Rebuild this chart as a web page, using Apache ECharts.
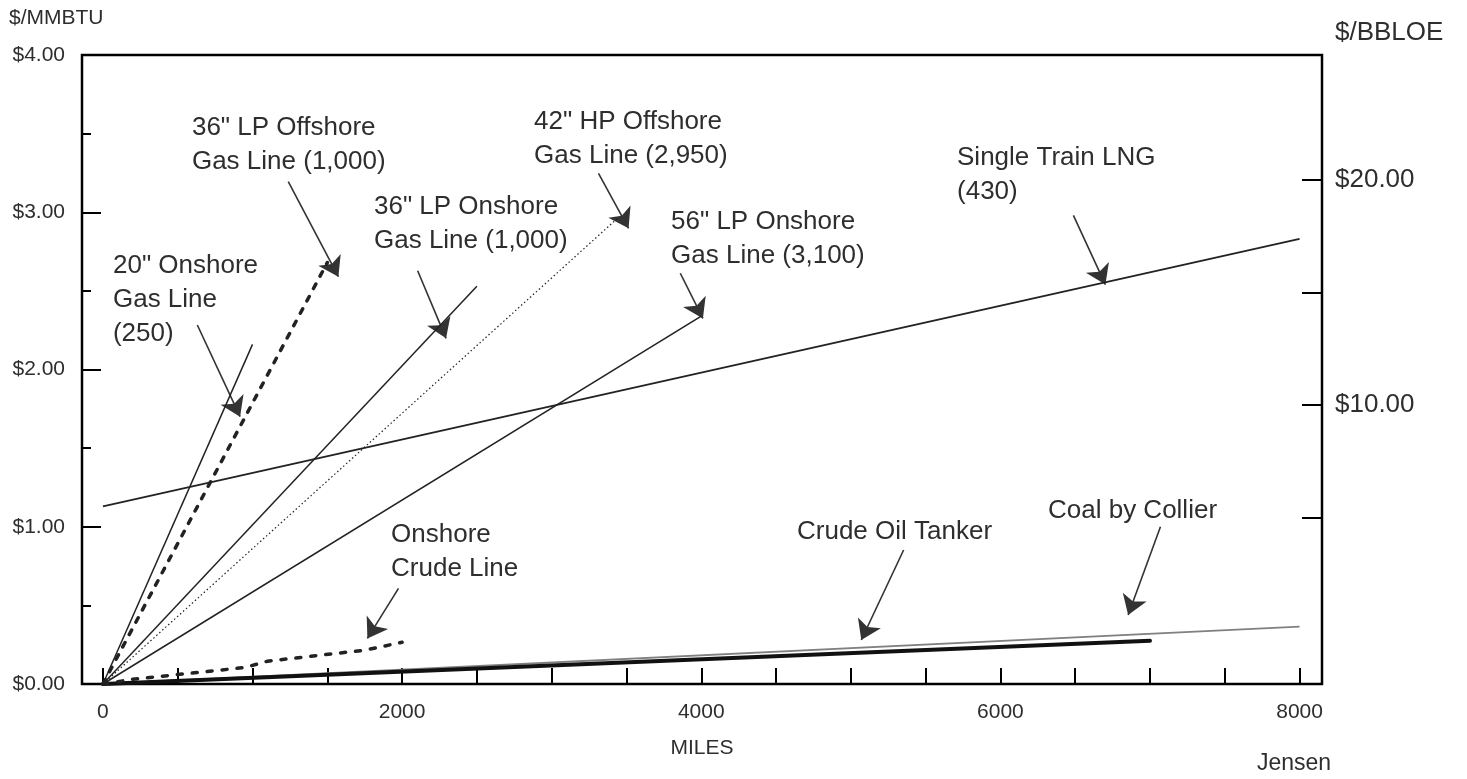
<!DOCTYPE html>
<html>
<head>
<meta charset="utf-8">
<title>Transport cost by distance</title>
<script src="https://cdn.jsdelivr.net/npm/echarts@6/dist/echarts.min.js"></script>
<style>
  html, body { margin: 0; padding: 0; background: #fff; }
  #chart { width: 1467px; height: 779px; }
</style>
</head>
<body>
<div id="chart"></div>
<script>
// x = miles, y = $/MMBTU
const onshore20 = [[0, 0], [1000, 2.16]];
const offshore36 = [[0, 0], [1500, 2.68]];
const onshore36 = [[0, 0], [2500, 2.53]];
const offshore42 = [[0, 0], [3450, 2.97]];
const onshore56 = [[0, 0], [4000, 2.34]];
const lngTrain = [[0, 1.13], [8000, 2.83]];
const crudeLine = [[0, 0], [200, 0.03], [950, 0.105], [1100, 0.145], [1750, 0.215], [2000, 0.265]];
const oilTanker = [[0, 0], [7000, 0.275]];
const coalCollier = [[0, 0], [8000, 0.365]];

const xTickValues = [0, 500, 1000, 1500, 2000, 2500, 3000, 3500, 4000, 4500, 5000, 5500, 6000, 6500, 7000, 7500, 8000];
const xLabelValues = [0, 2000, 4000, 6000, 8000];
const rightTickValues = [5, 10, 15, 20];
const rightLabelValues = [10, 20];

// annotation text (top-left corner in data space)
const notes = [
  { text: '20" Onshore\nGas Line\n(250)', at: [67, 2.77] },
  { text: '36" LP Offshore\nGas Line (1,000)', at: [595, 3.647] },
  { text: '36" LP Onshore\nGas Line (1,000)', at: [1812, 3.14] },
  { text: '42" HP Offshore\nGas Line (2,950)', at: [2882, 3.685] },
  { text: '56" LP Onshore\nGas Line (3,100)', at: [3798, 3.045] },
  { text: 'Single Train LNG\n(430)', at: [5710, 3.456] },
  { text: 'Onshore\nCrude Line', at: [1926, 1.057] },
  { text: 'Crude Oil Tanker', at: [4640, 1.073] },
  { text: 'Coal by Collier', at: [6318, 1.211] }
];
// arrows from label to line
const arrows = [
  [[631, 2.283], [917, 1.70]],
  [[1239, 3.194], [1574, 2.59]],
  [[2104, 2.628], [2294, 2.198]],
  [[3313, 3.247], [3514, 2.898]],
  [[3860, 2.612], [4011, 2.325]],
  [[6488, 2.98], [6702, 2.54]],
  [[1976, 0.608], [1768, 0.29]],
  [[5353, 0.852], [5070, 0.28]],
  [[7070, 1.0], [6854, 0.439]]
];

const textColor = '#2e2e2e';
const font = '"Liberation Sans", Arial, sans-serif';

const chart = echarts.init(document.getElementById('chart'));

function lineSeries(name, data, style) {
  return {
    name: name,
    type: 'line',
    data: data,
    showSymbol: false,
    symbol: 'none',
    silent: true,
    lineStyle: Object.assign({ color: '#222', width: 1.5 }, style)
  };
}

const option = {
  backgroundColor: '#fff',
  animation: false,
  grid: {
    left: 82, right: 145, top: 55, bottom: 95,
    show: true, borderColor: '#000', borderWidth: 2.5
  },
  xAxis: {
    type: 'value',
    min: -140,
    max: 8150,
    name: 'MILES',
    nameLocation: 'middle',
    nameGap: 54,
    nameTextStyle: { color: textColor, fontSize: 21, fontFamily: font },
    axisLine: { show: false, onZero: false },
    splitLine: { show: false },
    axisTick: {
      show: true, inside: true, length: 16,
      customValues: xTickValues,
      lineStyle: { color: '#000', width: 2 }
    },
    axisLabel: {
      customValues: xLabelValues,
      color: textColor, fontSize: 21, fontFamily: font, margin: 18,
      formatter: v => String(v)
    }
  },
  yAxis: [
    {
      type: 'value',
      min: 0,
      max: 4,
      interval: 1,
      axisLine: { show: false, onZero: false },
      splitLine: { show: false },
      axisTick: { show: true, inside: true, length: 19, lineStyle: { color: '#000', width: 2 } },
      minorTick: { show: true, splitNumber: 2, length: 9, lineStyle: { color: '#000', width: 2 } },
      axisLabel: {
        color: textColor, fontSize: 21, fontFamily: font, margin: 17,
        formatter: v => '$' + v.toFixed(2)
      }
    },
    {
      type: 'value',
      position: 'right',
      min: -2.4,
      max: 25.556,
      axisLine: { show: false, onZero: false },
      splitLine: { show: false },
      axisTick: {
        show: true, inside: true, length: 20,
        customValues: rightTickValues,
        lineStyle: { color: '#000', width: 2 }
      },
      axisLabel: {
        customValues: rightLabelValues,
        color: textColor, fontSize: 26, fontFamily: font, margin: 13,
        formatter: v => '$' + v.toFixed(2)
      }
    }
  ],
  graphic: [
    { type: 'text', left: 9, top: 8, style: { text: '$/MMBTU', fill: textColor, font: '21px ' + font } },
    { type: 'text', left: 1335, top: 20, style: { text: '$/BBLOE', fill: textColor, font: '26px ' + font } },
    { type: 'text', left: 1257, top: 752, style: { text: 'Jensen', fill: textColor, font: '23px ' + font } }
  ],
  series: [
    lineSeries('Coal by Collier', coalCollier, { color: '#808080', width: 1.8 }),
    lineSeries('Crude Oil Tanker', oilTanker, { color: '#111', width: 4, cap: 'round' }),
    lineSeries('20" Onshore Gas Line', onshore20, {}),
    lineSeries('36" LP Offshore Gas Line', offshore36, { width: 3.5, type: [5, 9], cap: 'round' }),
    lineSeries('36" LP Onshore Gas Line', onshore36, {}),
    lineSeries('42" HP Offshore Gas Line', offshore42, { width: 1.2, type: [1.5, 2.5] }),
    lineSeries('56" LP Onshore Gas Line', onshore56, {}),
    lineSeries('Single Train LNG', lngTrain, { width: 1.8 }),
    lineSeries('Onshore Crude Line', crudeLine, { width: 3.5, type: [5, 10], cap: 'round' }),
    {
      name: 'arrows',
      type: 'lines',
      coordinateSystem: 'cartesian2d',
      silent: true,
      symbol: ['none', 'arrow'],
      symbolSize: [9, 19],
      lineStyle: { color: '#333', width: 1.6, opacity: 1 },
      data: arrows.map(a => ({ coords: a }))
    },
    {
      name: 'notes',
      type: 'scatter',
      silent: true,
      symbolSize: 0,
      data: notes.map(n => ({
        value: n.at,
        label: {
          show: true,
          position: [0, 0],
          align: 'left',
          verticalAlign: 'top',
          formatter: n.text,
          color: textColor,
          opacity: 1,
          fontSize: 26,
          lineHeight: 34,
          fontFamily: font
        }
      }))
    }
  ]
};

chart.setOption(option);
</script>
</body>
</html>
